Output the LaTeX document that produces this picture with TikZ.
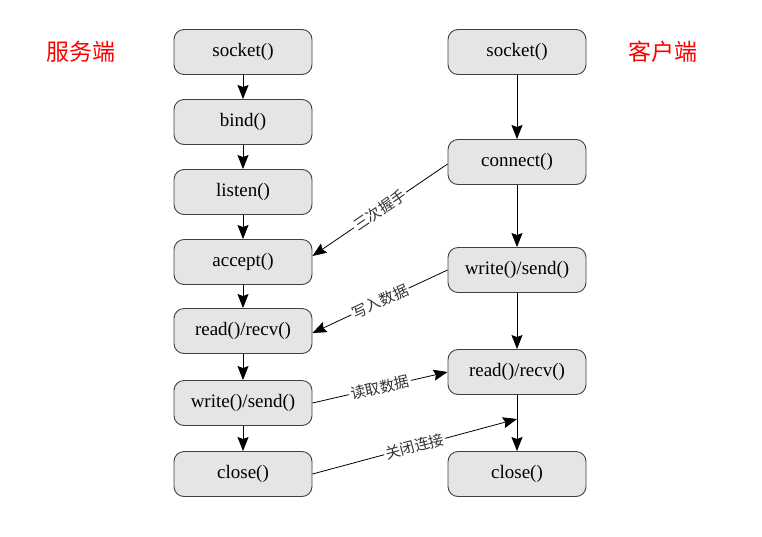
\documentclass[tikz,border=0pt]{standalone}
\usepackage{fontspec}
\setmainfont{Liberation Serif}
\newfontfamily\cjk{Noto Sans CJK SC}
\usetikzlibrary{arrows.meta,calc}
\begin{document}
\begin{tikzpicture}[x=1pt,y=-1pt,
  box/.style={draw=black!75, fill=black!10, rounded corners=10pt, minimum width=138pt, minimum height=45pt, line width=0.9pt, font=\fontsize{19}{21}\selectfont, inner sep=0pt},
  arr/.style={-{Stealth[length=14pt,width=11pt,inset=2pt]}, line width=0.8pt, black},
  lbl/.style={sloped, midway, fill=white, inner sep=1.5pt, font=\cjk\fontsize{15}{16}\selectfont, text=black!80},
  side/.style={text=red, font=\cjk\fontsize{23}{24}\selectfont}]
\useasboundingbox (0,0) rectangle (762,536);
% server
\node[box] (s1) at (243,52) {socket()};
\node[box] (s2) at (243,122) {bind()};
\node[box] (s3) at (243,192) {listen()};
\node[box] (s4) at (243,262) {accept()};
\node[box] (s5) at (243,331) {read()/recv()};
\node[box] (s6) at (243,403) {write()/send()};
\node[box] (s7) at (243,474) {close()};
% client
\node[box] (c1) at (517,52) {socket()};
\node[box] (c2) at (517,162) {connect()};
\node[box] (c3) at (517,270) {write()/send()};
\node[box] (c4) at (517,372) {read()/recv()};
\node[box] (c5) at (517,474) {close()};
\node[side] (ls) at (81,52) {服务端};
\node[side] (rs) at (663,52) {客户端};
% vertical arrows
\foreach \a/\b in {s1/s2,s2/s3,s3/s4,s4/s5,s5/s6,s6/s7,c1/c2,c2/c3,c3/c4,c4/c5}
  \draw[arr] (\a) -- (\b);
\coordinate (cm) at (517,419);
\draw[arr] ([yshift=-2pt]c2.west) -- node[lbl]{三次握手} ([yshift=6pt]s4.east);
\draw[arr] (c3.west) -- node[lbl]{写入数据} ([yshift=-2pt]s5.east);
\draw[arr] (s6.east) -- node[lbl]{读取数据} (c4.west);
\draw[arr] (s7.east) -- node[lbl]{关闭连接} (cm);
\end{tikzpicture}
\end{document}
